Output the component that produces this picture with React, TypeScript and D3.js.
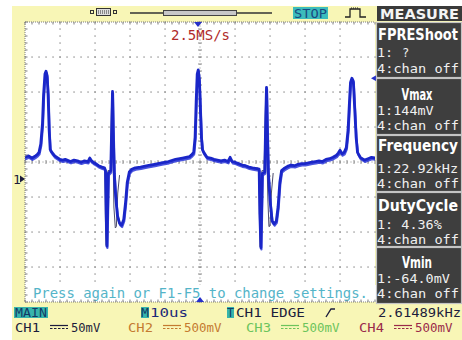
import React from 'react';
import * as d3 from 'd3';

// CH1 acquisition: time relative to trigger (µs) and voltage (mV)
const traceTimeUs = [
  -50, -49, -48, -47, -46.5, -46, -45.5, -45, -44.7, -44.3, -44, -43.7, -43.4, -43.1, -42.8, -42.3, -41.5,
  -40, -39.3, -38.5, -37, -36, -35, -34, -33, -32, -31.5, -31, -30.5, -29.5, -29, -28, -27.3,
  -27.0, -26.8, -26.6, -26.4, -26.2, -25.5, -25.2, -25.0, -24.8, -24.5, -24.1, -23.6, -23.0, -22.4, -21.8,
  -21.3, -20.8, -20.2, -19.5, -18.5, -17, -15, -13, -11, -9, -7, -5, -4, -3, -2.5, -1.8, -1.4, -1.1, -0.8,
  -0.5, -0.2, 0.1, 0.4, 0.7, 1.2, 2, 3, 4, 5, 6, 7, 8, 8.6, 9.2, 10, 11, 12, 13, 14, 15, 16.2,
  16.9, 17.1, 17.4, 17.6, 17.8, 18.5, 18.8, 19.0, 19.2, 19.5, 20.0, 20.6, 21.2, 21.8, 22.3, 22.8, 23.3,
  24, 25, 26, 27, 28, 29, 30, 31, 32, 33, 34, 35, 36, 37, 38, 39, 39.5, 40, 40.6, 41.2, 41.8, 42.3,
  42.7, 43.0, 43.4, 43.8, 44.2, 44.6, 45, 45.8, 47, 48, 49, 50,
];
const traceMv = [
  31, 33, 30, 33, 35, 38, 50, 80, 120, 150, 154, 148, 120, 70, 42, 38, 33,
  28, 27, 28, 25, 27, 26, 24, 26, 25, 30, 26, 24, 21, 19, 17, 16,
  12, -50, -96, -45, 8, 12, 80, 125, 70, 8, -25, -52, -63, -66, -58,
  -35, -5, 10, 14, 16, 17, 19, 21, 23, 25, 28, 30, 31, 32, 34, 38, 60, 110, 150,
  156, 142, 100, 60, 42, 37, 31, 30, 28, 27, 26, 27, 25, 31, 25, 24, 22, 20, 19, 17, 16, 15,
  14, -50, -98, -45, 8, 10, 90, 131, 80, 10, -30, -60, -64, -60, -40, -5, 12,
  15, 18, 20, 19, 21, 22, 22, 23, 24, 25, 26, 25, 28, 29, 31, 34, 37, 41, 36, 38, 45, 70,
  110, 138, 144, 140, 100, 60, 38, 31, 27, 29, 31, 30,
];

// Second sweep, visible only where the fast edges split apart (null = gap)
const echoTimeUs = [
  -27.6, -27.2, -27.0, -26.8, -26.6, -26.3, -25.6, -25.3, -25.1, -24.9, -24.6, -24.2, -23.9, -23.5, -23.0,
  null,
  16.2, 16.8, 17.0, 17.2, 17.4, 17.7, 18.3, 18.6, 18.8, 19.0, 19.4, 19.7, 20.0, 20.4, 20.9,
];
const echoMv = [
  16, 14, -70, -95, -30, 12, 12, 100, 123, 60, -40, -70, -68, -20, 5,
  null,
  16, 15, -60, -97, -20, 12, 12, 80, 125, 60, -30, -68, -67, -20, 8,
];

const measureTitles = ['FPREShoot', 'Vmax', 'Frequency', 'DutyCycle', 'Vmin'];
const measureCh1 = ['1:', '1:144mV', '1:22.92kHz', '1: 4.36%', '1:-64.0mV'];
const measureCh4 = ['4:chan off', '4:chan off', '4:chan off', '4:chan off', '4:chan off'];
const channelNames = ['CH1', 'CH2', 'CH3', 'CH4'];
const channelScales = ['50mV', '500mV', '500mV', '500mV'];

const CH1_OFFSET_MV = 24.3;
const CH1_MV_PER_DIV = 50;
const US_PER_DIV = 10;

const MONO = '"DejaVu Sans Mono", "Liberation Mono", monospace';
const BOLD = '"Liberation Sans Narrow", "DejaVu Sans Condensed", "Liberation Sans", sans-serif';

const GRID = { left: 25, right: 375, top: 22, bottom: 302 };

function DcSymbol({ x, y, color }: { x: number; y: number; color: string }) {
  return (
    <g stroke={color} strokeWidth={1.2}>
      <line x1={x} x2={x + 18} y1={y} y2={y} />
      <line x1={x} x2={x + 18} y1={y + 3} y2={y + 3} strokeDasharray="2.5 1.5" />
    </g>
  );
}

export default function App() {
  const x = d3.scaleLinear().domain([-5 * US_PER_DIV, 5 * US_PER_DIV]).range([GRID.left, GRID.right]);
  const y = d3
    .scaleLinear()
    .domain([CH1_OFFSET_MV - 4 * CH1_MV_PER_DIV, CH1_OFFSET_MV + 4 * CH1_MV_PER_DIV])
    .range([GRID.bottom, GRID.top]);
  const gx = d3.scaleLinear().domain([-5, 5]).range([GRID.left, GRID.right]);
  const gy = d3.scaleLinear().domain([-4, 4]).range([GRID.bottom, GRID.top]);

  const mainPts = traceTimeUs.map((t, i) => [t, traceMv[i]] as [number, number]);
  const echoPts = echoTimeUs.map((t, i) => [t, echoMv[i]] as [number | null, number | null]);

  const line = d3
    .line<[number, number]>()
    .x((d) => x(d[0]))
    .y((d) => y(d[1]));
  const echoLine = d3
    .line<[number | null, number | null]>()
    .defined((d) => d[0] !== null && d[1] !== null)
    .x((d) => x(d[0] as number))
    .y((d) => y(d[1] as number));

  // Graticule dots every 1/5 division
  const dots: JSX.Element[] = [];
  const minor = d3.range(-25, 26).map((j) => j / 5);
  const minorV = d3.range(-20, 21).map((j) => j / 5);
  for (let i = -4; i <= 4; i++) {
    if (i === 0) continue;
    for (const v of minorV) {
      dots.push(<rect key={`v${i}_${v}`} x={gx(i) - 0.6} y={gy(v) - 0.6} width={1.3} height={1.3} fill="#8c8c8c" />);
    }
  }
  for (let k = -3; k <= 3; k++) {
    if (k === 0) continue;
    for (const u of minor) {
      dots.push(<rect key={`h${k}_${u}`} x={gx(u) - 0.6} y={gy(k) - 0.6} width={1.3} height={1.3} fill="#8c8c8c" />);
    }
  }
  // Centre axes with tick crosses
  const axisTicks: JSX.Element[] = [];
  for (const v of minorV) {
    axisTicks.push(<line key={`cv${v}`} x1={gx(0) - 2} x2={gx(0) + 2} y1={gy(v)} y2={gy(v)} />);
  }
  for (const u of minor) {
    axisTicks.push(<line key={`ch${u}`} x1={gx(u)} x2={gx(u)} y1={gy(0) - 2} y2={gy(0) + 2} />);
  }
  // Border ticks
  const borderTicks: JSX.Element[] = [];
  for (const u of minor) {
    borderTicks.push(<line key={`bt${u}`} x1={gx(u)} x2={gx(u)} y1={GRID.top} y2={GRID.top + 2.5} />);
    borderTicks.push(<line key={`bb${u}`} x1={gx(u)} x2={gx(u)} y1={GRID.bottom} y2={GRID.bottom - 2.5} />);
  }
  for (const v of minorV) {
    borderTicks.push(<line key={`bl${v}`} x1={GRID.left} x2={GRID.left + 2.5} y1={gy(v)} y2={gy(v)} />);
  }

  const boxTops = [22, 78, 135, 192, 247];
  const boxBottom = 304;
  const titleBase = [40, 100, 151, 211, 268];
  const ch1Base = [57, 115, 173, 229, 283];
  const ch4Base = [73, 130, 188, 244, 298];
  const titleWidths = [80, 31, 80, 80, 30];
  const centred = [false, true, false, false, true];

  const chColors = ['#1c1c3c', '#c47a30', '#6cc45c', '#9a2a4a'];
  const chX = [15, 128, 246, 359];

  const ground = y(0);

  return (
    <svg width={462} height={340} style={{ position: 'absolute', left: 0, top: 0, display: 'block' }}>
      <defs>
        <clipPath id="gridClip">
          <rect x={GRID.left} y={GRID.top} width={GRID.right - GRID.left} height={GRID.bottom - GRID.top} />
        </clipPath>
      </defs>
      <rect x={0} y={0} width={462} height={340} fill="#ffffff" />
      <rect x={12} y={6} width={450} height={334} fill="#f8f6b6" />

      {/* graticule */}
      <rect x={GRID.left} y={GRID.top} width={GRID.right - GRID.left} height={GRID.bottom - GRID.top} fill="#ffffff" />
      {dots}
      <g stroke="#8c8c8c" strokeWidth={1}>{axisTicks}</g>
      <line x1={gx(0)} x2={gx(0)} y1={GRID.top} y2={GRID.bottom} stroke="#8c8c8c" strokeDasharray="1 2.5" />
      <line x1={GRID.left} x2={GRID.right} y1={gy(0)} y2={gy(0)} stroke="#8c8c8c" strokeDasharray="1 2.5" />

      {/* message line */}
      <rect x={GRID.left} y={285} width={352} height={17} fill="#ffffff" />
      <text x={33} y={298} fontFamily={MONO} fontSize={14} fill="#54b4c8" textLength={335} lengthAdjust="spacingAndGlyphs">
        Press again or F1-F5 to change settings.
      </text>

      {/* traces */}
      <g clipPath="url(#gridClip)" fill="none" strokeLinejoin="round" strokeLinecap="round">
        <path d={echoLine(echoPts) || ''} stroke="#4c4c6c" strokeWidth={1} />
        <path d={line(mainPts) || ''} stroke="#2a36d8" strokeWidth={2.2} transform="translate(0.5,1.8)" opacity={0.85} />
        <path d={line(mainPts) || ''} stroke="#1a26c8" strokeWidth={2.8} />
      </g>

      {/* border */}
      <g stroke="#7c7c7c" strokeWidth={1}>
        <line x1={GRID.left} x2={GRID.right} y1={GRID.top} y2={GRID.top} strokeDasharray="1 1" />
        <line x1={GRID.left} x2={GRID.right} y1={GRID.bottom} y2={GRID.bottom} strokeDasharray="1 1" />
        <line x1={GRID.left} x2={GRID.left} y1={GRID.top} y2={GRID.bottom} strokeDasharray="1 1" />
        {borderTicks}
      </g>

      {/* sample rate and markers */}
      <text x={171} y={40} fontFamily={MONO} fontSize={14} fill="#b02a2a" textLength={59} lengthAdjust="spacingAndGlyphs">
        2.5MS/s
      </text>
      <path d={`M${gx(0) - 6},${GRID.top} L${gx(0) + 2},${GRID.top} L${gx(0) - 2},${GRID.top + 5} Z`} fill="#2530c8" />
      <path d={`M${gx(0) - 4},${GRID.bottom} L${gx(0) + 4},${GRID.bottom} L${gx(0)},${GRID.bottom - 5} Z`} fill="#2530c8" />
      <path d={`M371,${y(144)} L378,${y(144) - 4} L378,${y(144) + 4} Z`} fill="#2530c8" />
      <text x={13} y={ground + 5} fontFamily={MONO} fontSize={13} fill="#1c1c3c">1</text>
      <path d={`M20,${ground - 3.5} L25,${ground} L20,${ground + 3.5} Z`} fill="#1c1c3c" />

      {/* top bar */}
      <g fill="none" stroke="#333" strokeWidth={1}>
        <rect x={90.5} y={10.5} width={3} height={3} />
        <rect x={96.5} y={8.5} width={14} height={7} fill="#ddd" />
        <rect x={113.5} y={10.5} width={3} height={3} />
        <line x1={98} x2={109} y1={11} y2={11} strokeDasharray="1 1" />
        <line x1={98} x2={109} y1={13} y2={13} strokeDasharray="1 1" />
      </g>
      <line x1={130} x2={272} y1={13} y2={13} stroke="#333" strokeWidth={1.5} />
      <rect x={163.5} y={10.5} width={73} height={5} fill="#c8c8c8" stroke="#444" />
      <rect x={293} y={7} width={35} height={12} fill="#3cbcbc" />
      <text x={294} y={17.5} fontFamily={MONO} fontSize={13} fill="#1a4a80" textLength={33} lengthAdjust="spacingAndGlyphs">
        STOP
      </text>
      <path d="M345,17 H350 V9 H360 V17 H366" fill="none" stroke="#222" strokeWidth={1.3} />
      <line x1={351} x2={359} y1={8} y2={8} stroke="#222" strokeDasharray="1 1" />

      {/* measure panel */}
      <rect x={377} y={6} width={85} height={15} fill="#3a3a3a" />
      <text x={380} y={19} fontFamily={BOLD} fontWeight="bold" fontSize={14} fill="#f4f4f4" textLength={79} lengthAdjust="spacingAndGlyphs">
        MEASURE
      </text>
      {measureTitles.map((title, i) => {
        const top = boxTops[i];
        const bottom = i < boxTops.length - 1 ? boxTops[i + 1] : boxBottom;
        const w = titleWidths[i];
        const tx = centred[i] ? 417 - w / 2 : 378;
        return (
          <g key={title}>
            <rect x={376.5} y={top + 0.5} width={85} height={bottom - top - 1} fill="#3e3e3e" stroke="#c4c4c4" strokeWidth={1.2} />
            <text x={tx} y={titleBase[i]} fontFamily={BOLD} fontWeight="bold" fontSize={15} fill="#ffffff" textLength={w} lengthAdjust="spacingAndGlyphs">
              {title}
            </text>
            <text x={377} y={ch1Base[i]} fontFamily={MONO} fontSize={12} fill="#f0f0f0" textLength={measureCh1[i].length * 8.1} lengthAdjust="spacingAndGlyphs">
              {measureCh1[i]}
            </text>
            {i === 0 && (
              <text x={402} y={ch1Base[i]} fontFamily={MONO} fontSize={12} fill="#f0f0f0">?</text>
            )}
            <text x={377} y={ch4Base[i]} fontFamily={MONO} fontSize={12} fill="#f0f0f0" textLength={82} lengthAdjust="spacingAndGlyphs">
              {measureCh4[i]}
            </text>
          </g>
        );
      })}

      {/* status bar, row 1 */}
      <rect x={14} y={307} width={34} height={11} fill="#36b4ac" />
      <text x={15} y={317} fontFamily={MONO} fontSize={13} fill="#123a66" textLength={32} lengthAdjust="spacingAndGlyphs">MAIN</text>
      <rect x={141} y={307} width={8} height={11} fill="#36b4ac" />
      <text x={141} y={317} fontFamily={MONO} fontSize={13} fill="#123a66" textLength={8} lengthAdjust="spacingAndGlyphs">M</text>
      <text x={150} y={317} fontFamily={MONO} fontSize={13} fill="#1c2a7a" textLength={38} lengthAdjust="spacingAndGlyphs">10us</text>
      <rect x={227} y={307} width={7} height={11} fill="#36b4ac" />
      <text x={227} y={317} fontFamily={MONO} fontSize={13} fill="#123a66" textLength={7} lengthAdjust="spacingAndGlyphs">T</text>
      <text x={236} y={317} fontFamily={MONO} fontSize={13} fill="#1c1c3c" textLength={69} lengthAdjust="spacingAndGlyphs">CH1 EDGE</text>
      <path d="M326,317 L331,309 L335,309" fill="none" stroke="#1c1c3c" strokeWidth={1.4} />
      <text x={378} y={317} fontFamily={MONO} fontSize={13} fill="#1c1c3c" textLength={83} lengthAdjust="spacingAndGlyphs">2.61489kHz</text>

      {/* status bar, row 2 */}
      {channelNames.map((name, i) => {
        const x0 = chX[i];
        const scaleW = channelScales[i].length * 8.3;
        return (
          <g key={name} fill={chColors[i]}>
            <text x={x0} y={332} fontFamily={MONO} fontSize={13} textLength={25} lengthAdjust="spacingAndGlyphs">{name}</text>
            <DcSymbol x={x0 + 35} y={325.5} color={chColors[i]} />
            <text x={x0 + 56} y={332} fontFamily={MONO} fontSize={13} textLength={scaleW - 4} lengthAdjust="spacingAndGlyphs">
              {channelScales[i]}
            </text>
          </g>
        );
      })}
    </svg>
  );
}
